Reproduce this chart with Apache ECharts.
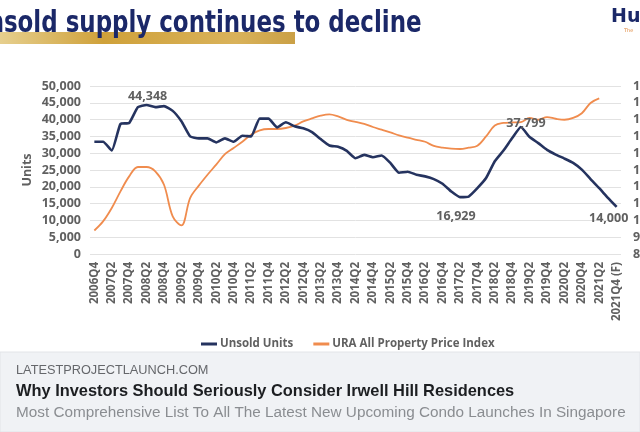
<!DOCTYPE html>
<html>
<head>
    <meta charset="UTF-8">
    <title>Unsold supply continues to decline</title>
    <script type="text/javascript" src="https://cdn.jsdelivr.net/npm/echarts@6/dist/echarts.min.js"></script>
</head>
<body style="margin: 0; background: #fff">
<div id="container" style="width: 640px; height: 432px"></div>
<script type="text/javascript">
    const quarters = [
        '2006Q4', '2007Q1', '2007Q2', '2007Q3', '2007Q4', '2008Q1', '2008Q2', '2008Q3', '2008Q4',
        '2009Q1', '2009Q2', '2009Q3', '2009Q4', '2010Q1', '2010Q2', '2010Q3', '2010Q4',
        '2011Q1', '2011Q2', '2011Q3', '2011Q4', '2012Q1', '2012Q2', '2012Q3', '2012Q4',
        '2013Q1', '2013Q2', '2013Q3', '2013Q4', '2014Q1', '2014Q2', '2014Q3', '2014Q4',
        '2015Q1', '2015Q2', '2015Q3', '2015Q4', '2016Q1', '2016Q2', '2016Q3', '2016Q4',
        '2017Q1', '2017Q2', '2017Q3', '2017Q4', '2018Q1', '2018Q2', '2018Q3', '2018Q4',
        '2019Q1', '2019Q2', '2019Q3', '2019Q4', '2020Q1', '2020Q2', '2020Q3', '2020Q4',
        '2021Q1', '2021Q2', '2021Q3', '2021Q4 (F)'
    ];
    // unsold private homes (left axis)
    const unsoldUnits = [
        33400, 33400, 30800, 38700, 39000, 43700, 44348, 43700, 44000,
        42600, 39500, 35000, 34400, 34400, 33200, 34400, 33400,
        35200, 35000, 40300, 40300, 37700, 39200, 38000, 37400,
        36300, 34200, 32300, 31900, 30700, 28500, 29500, 28800,
        29300, 27100, 24200, 24500, 23600, 23100, 22300, 20900,
        18600, 16929, 17100, 19600, 22600, 27600, 30800, 34500,
        37799, 34800, 33000, 31000, 29600, 28400, 27100, 25100,
        22300, 19600, 16700, 14000
    ];
    // URA all property price index (right axis)
    const uraIndex = [
        94.0, 99.4, 107.4, 117.3, 126.2, 131.8, 131.8, 129.2, 121.2,
        102.4, 97.0, 113.3, 120.7, 127.2, 133.2, 139.4, 143.1,
        146.8, 151.0, 153.6, 154.4, 154.4, 155.0, 156.4, 158.9,
        160.7, 162.3, 163.1, 161.9, 159.9, 158.6, 157.4, 155.6,
        154.0, 152.4, 150.6, 149.2, 148.0, 146.8, 144.3, 143.3,
        142.7, 142.5, 143.3, 144.5, 150.0, 156.5, 158.0, 158.3,
        158.5, 161.0, 159.9, 161.5, 160.5, 159.9, 161.0, 163.8,
        169.9, 172.6, null, null
    ];
    // points carrying a value callout: index -> [position, offset]
    const callouts = {
        6: ['top', [1, 0]],
        42: ['bottom', [-4, 11]],
        49: ['top', [5, 5]],
        60: ['bottom', [-8, 3]]
    };

    const grey = '#606060';
    const labelFont = {color: grey, fontFamily: 'Open Sans', fontWeight: 'bold'};
    const fmt = v => v.toLocaleString('en-US');

    const unsoldData = unsoldUnits.map((v, i) => {
        if (!callouts[i]) return v;
        return {
            value: v,
            label: {
                show: true,
                position: callouts[i][0],
                offset: callouts[i][1],
                distance: 2,
                formatter: p => fmt(p.value),
                fontSize: 12.5,
                ...labelFont
            }
        };
    });

    const myChart = echarts.init(document.getElementById('container'), null, {renderer: 'canvas'});
    const option = {
        backgroundColor: '#fff',
        animation: false,
        grid: {left: 90, right: 19, top: 86, bottom: 178, outerBoundsMode: 'none', containLabel: false},
        legend: {
            left: 196,
            top: 333,
            icon: 'rect',
            itemWidth: 16,
            itemHeight: 3,
            itemGap: 20,
            textStyle: {fontSize: 11.5, padding: [0, 0, 0, -2], ...labelFont},
            data: ['Unsold Units', 'URA All Property Price Index']
        },
        xAxis: {
            type: 'category',
            data: quarters,
            boundaryGap: true,
            axisLine: {show: false},
            axisTick: {show: false},
            axisLabel: {rotate: 90, interval: 1, margin: 8, fontSize: 11.5, ...labelFont}
        },
        yAxis: [{
            type: 'value',
            min: 0,
            max: 50000,
            interval: 5000,
            name: 'Units',
            nameLocation: 'middle',
            nameRotate: 90,
            nameGap: 56,
            nameMoveOverlap: false,
            nameTextStyle: {fontSize: 12.5, ...labelFont},
            axisLine: {show: false},
            axisTick: {show: false},
            axisLabel: {margin: 9, fontSize: 12.5, formatter: fmt, ...labelFont},
            splitLine: {lineStyle: {color: '#e2e2e2', width: 1}}
        }, {
            type: 'value',
            min: 80,
            max: 180,
            interval: 10,
            position: 'right',
            axisLine: {show: false},
            axisTick: {show: false},
            axisLabel: {margin: 12, fontSize: 12.5, align: 'left', ...labelFont},
            splitLine: {show: false}
        }],
        series: [{
            name: 'Unsold Units',
            type: 'line',
            yAxisIndex: 0,
            data: unsoldData,
            showSymbol: true,
            symbol: 'circle',
            symbolSize: 0,
            smooth: 0.15,
            color: '#25335f',
            lineStyle: {color: '#25335f', width: 2.6},
            z: 3
        }, {
            name: 'URA All Property Price Index',
            type: 'line',
            yAxisIndex: 1,
            data: uraIndex,
            showSymbol: false,
            symbol: 'none',
            smooth: 0.35,
            color: '#f08c4e',
            lineStyle: {color: '#f08c4e', width: 1.8},
            z: 2
        }],
        graphic: [
            {
                type: 'rect',
                z: 1,
                shape: {x: 0, y: 32, width: 295, height: 12},
                style: {
                    fill: new echarts.graphic.LinearGradient(0, 0, 1, 0, [
                        {offset: 0, color: '#e6cf8e'},
                        {offset: 0.35, color: '#cfa13a'},
                        {offset: 0.8, color: '#d9b25a'},
                        {offset: 1, color: '#caa046'}
                    ])
                }
            },
            {
                type: 'text',
                z: 2,
                x: -31,
                y: 8,
                scaleX: 0.74,
                style: {
                    text: 'Unsold supply continues to decline',
                    font: '900 31px "DejaVu Sans"',
                    fill: '#1b2868'
                }
            },
            {
                type: 'text',
                x: 611,
                y: 8,
                style: {text: 'Hu', font: 'bold 19px "DejaVu Sans"', fill: '#1b2868'}
            },
            {
                type: 'text',
                x: 624,
                y: 28,
                style: {text: 'The', font: '5px "DejaVu Sans"', fill: '#e08a40'}
            },
            {
                type: 'rect',
                shape: {x: 0, y: 352, width: 640, height: 80},
                style: {fill: '#f0f2f5', stroke: '#e2e4e8', lineWidth: 1}
            },
            {
                type: 'text',
                x: 16,
                y: 364,
                style: {text: 'LATESTPROJECTLAUNCH.COM', font: '12.75px "Liberation Sans"', fill: '#65676b'}
            },
            {
                type: 'text',
                x: 16,
                y: 383,
                style: {
                    text: 'Why Investors Should Seriously Consider Irwell Hill Residences',
                    font: 'bold 16.4px "Liberation Sans"',
                    fill: '#1c1e21'
                }
            },
            {
                type: 'text',
                x: 16,
                y: 405,
                style: {
                    text: 'Most Comprehensive List To All The Latest New Upcoming Condo Launches In Singapore',
                    font: '15.3px "Liberation Sans"',
                    fill: '#8a8d91'
                }
            }
        ]
    };
    myChart.setOption(option);
</script>
</body>
</html>
